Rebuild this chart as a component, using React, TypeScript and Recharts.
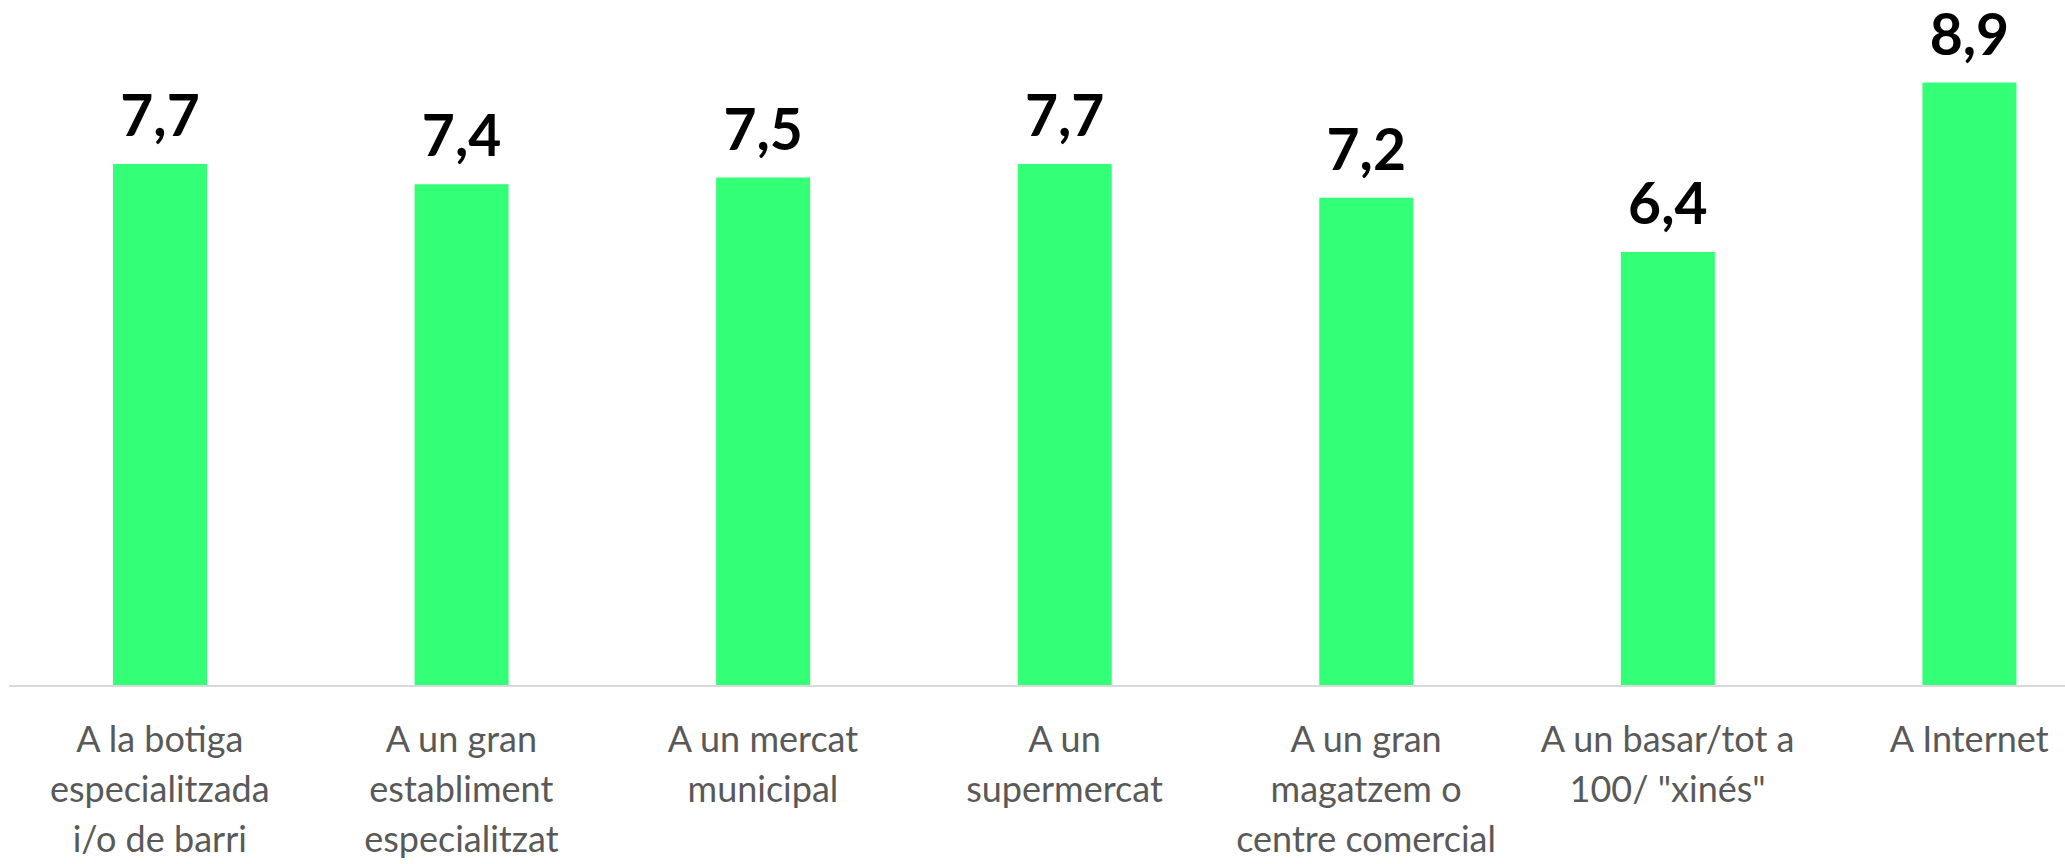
import React from "react";
import { BarChart, Bar, XAxis, YAxis, LabelList } from "recharts";

const categories = [
  "A la botiga\nespecialitzada\ni/o de barri",
  "A un gran\nestabliment\nespecialitzat",
  "A un mercat\nmunicipal",
  "A un\nsupermercat",
  "A un gran\nmagatzem o\ncentre comercial",
  "A un basar/tot a\n100/ \"xinés\"",
  "A Internet",
];
const scores = [7.7, 7.4, 7.5, 7.7, 7.2, 6.4, 8.9];

const data = categories.map((c, i) => ({ name: c, value: scores[i] }));

const CategoryTick = (props: any) => {
  const { x, y, payload } = props;
  const lines = String(payload.value).split("\n");
  return (
    <text
      x={x}
      y={y}
      textAnchor="middle"
      fill="#595959"
      fontSize={36}
      fontFamily="Lato, 'Open Sans', sans-serif"
    >
      {lines.map((l, i) => (
        <tspan key={i} x={x} dy={i === 0 ? 66 : 50}>
          {l}
        </tspan>
      ))}
    </text>
  );
};

export default function App() {
  return (
    <div
      style={{
        position: "absolute",
        left: 0,
        top: 0,
        width: 2065,
        height: 864,
        overflow: "hidden",
        background: "#ffffff",
      }}
    >
      <BarChart
        width={2120}
        height={864}
        data={data}
        margin={{ top: 8, right: 0, bottom: 0, left: 9 }}
      >
        <YAxis hide domain={[0, 10]} />
        <XAxis
          dataKey="name"
          height={178}
          interval={0}
          tickLine={false}
          tickSize={0}
          tickMargin={0}
          axisLine={{ stroke: "#d9d9d9", strokeWidth: 2 }}
          tick={<CategoryTick />}
        />
        <Bar dataKey="value" fill="#33FF77" barSize={94} isAnimationActive={false}>
          <LabelList
            dataKey="value"
            position="top"
            offset={28}
            formatter={(v: any) => String(v).replace(".", ",")}
            fill="#000000"
            fontSize={57}
            fontWeight={700}
            fontFamily="Lato, 'Open Sans', sans-serif"
          />
        </Bar>
      </BarChart>
    </div>
  );
}
